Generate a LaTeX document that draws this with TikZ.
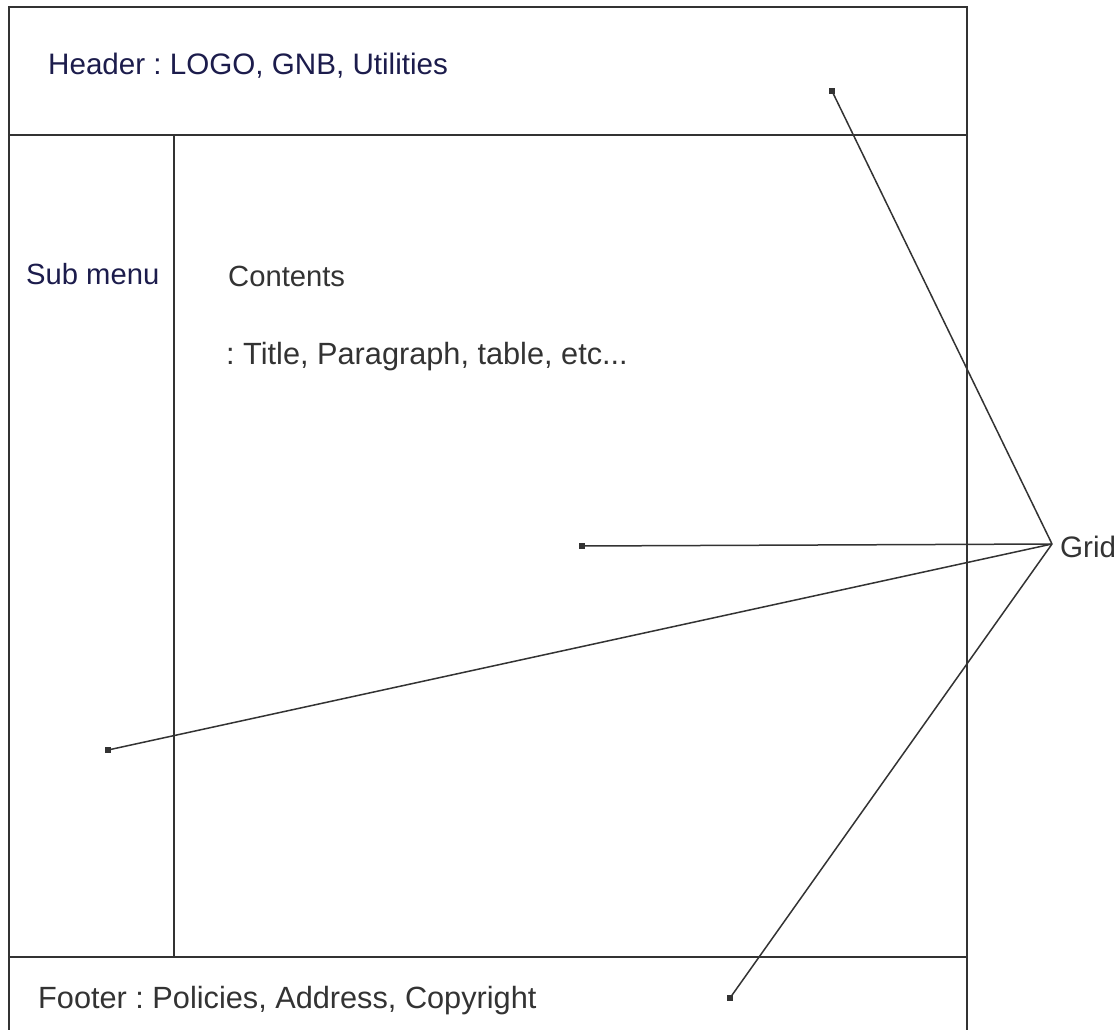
\documentclass[tikz,border=0pt]{standalone}
\usepackage{fontspec}
\setmainfont{Liberation Sans}
\frenchspacing
\definecolor{navy}{HTML}{1C1C4C}
\definecolor{ink}{HTML}{333333}
\begin{document}
\begin{tikzpicture}[x=1pt,y=-1pt,
  frame/.style={draw=ink, line width=2pt},
  conn/.style={draw=ink, line width=1.5pt},
  dot/.style={fill=ink, minimum size=6pt, inner sep=0pt, rectangle},
  txt/.style={anchor=base west, inner sep=0pt, font=\fontsize{#1}{36}\selectfont},
  txt/.default=30.5]
\useasboundingbox (0,0) rectangle (1117,1030);
\fill[white] (0,0) rectangle (1117,1030);
% frame
\draw[frame] (9,1035) -- (9,7) -- (967,7) -- (967,1035);
\draw[frame] (9,135) -- (967,135);
\draw[frame] (9,957) -- (967,957);
\draw[frame] (174,135) -- (174,957);
% texts
\node[txt=29.6, text=navy] (header) at (48,75) {Header : LOGO, GNB, Utilities};
\node[txt=29.2, text=navy] (submenu) at (26,284) {Sub menu};
\node[txt=29.2, text=ink] (contents) at (228,286) {Contents};
\node[txt=30.7, text=ink] (contentsub) at (226,364) {: Title, Paragraph, table, etc...};
\node[txt=30.7, text=ink] (footer) at (38,1008) {Footer : Policies, Address, Copyright};
\node[txt=29.6, text=ink] (grid) at (1060,557) {Grid};
% connectors
\coordinate (hub) at (1052,544);
\node[dot] (d1) at (832,91) {};
\node[dot] (d2) at (582,546) {};
\node[dot] (d3) at (108,750) {};
\node[dot] (d4) at (730,998) {};
\draw[conn] (d1.center) -- (hub);
\draw[conn] (d2.center) -- (hub);
\draw[conn] (d3.center) -- (hub);
\draw[conn] (d4.center) -- (hub);
\end{tikzpicture}
\end{document}
